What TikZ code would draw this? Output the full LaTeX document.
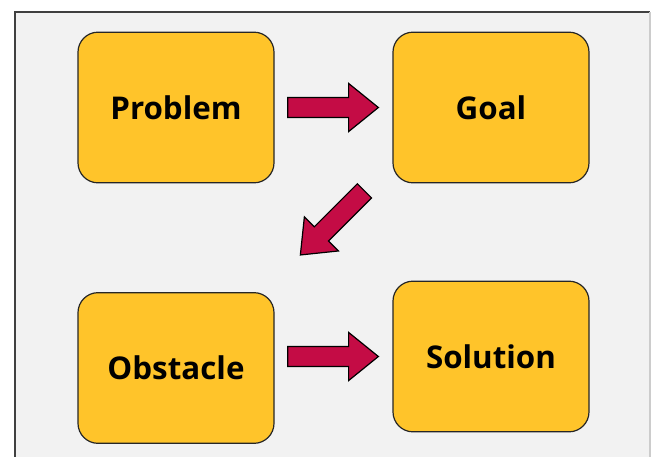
\documentclass[tikz,border=0pt]{standalone}
\usepackage{fontspec}
\setmainfont{Open Sans}
\usepackage{xcolor}
\usetikzlibrary{shapes.arrows,calc}
\definecolor{boxfill}{HTML}{FFC42A}
\definecolor{arrowfill}{HTML}{C40C45}
\definecolor{pagefill}{HTML}{F2F2F2}

\begin{document}
\begin{tikzpicture}[x=0.75pt,y=-0.75pt,
  stepbox/.style={draw=black!85,line width=0.9pt,fill=boxfill,rounded corners=15pt,
    minimum width=147pt,minimum height=113pt,font=\fontsize{23.5}{28}\selectfont\bfseries},
  blockarrow/.style={single arrow,draw=black,line width=0.9pt,fill=arrowfill,
    minimum height=68pt,single arrow head extend=10.5pt,single arrow tip angle=78,
    inner xsep=0pt,inner ysep=7.1pt,anchor=tail}]
  \useasboundingbox (0,0) rectangle (651,457);
  % page
  \fill[pagefill] (15,12) rectangle (650,457);
  \draw[black!75,line width=1.5pt] (15,457) -- (15,12) -- (650,12);
  \draw[black!20,line width=1.5pt] (650,12) -- (650,457);
  % steps
  \node[stepbox] (problem) at (176,107.5) {Problem};
  \node[stepbox] (goal) at (491,107.5) {Goal};
  \node[stepbox] (obstacle) at (176,368) {Obstacle};
  \node[stepbox] (solution) at (491,356.5) {Solution};
  % arrows
  \node[blockarrow] (ar1) at ($(problem.east)+(12.5,0)$) {};
  \node[blockarrow,rotate=225] (ar2) at ($(goal.south west)+(-27.5,7)$) {};
  \node[blockarrow] (ar3) at ($(obstacle.east |- solution.west)+(12.5,0)$) {};
\end{tikzpicture}
\end{document}
